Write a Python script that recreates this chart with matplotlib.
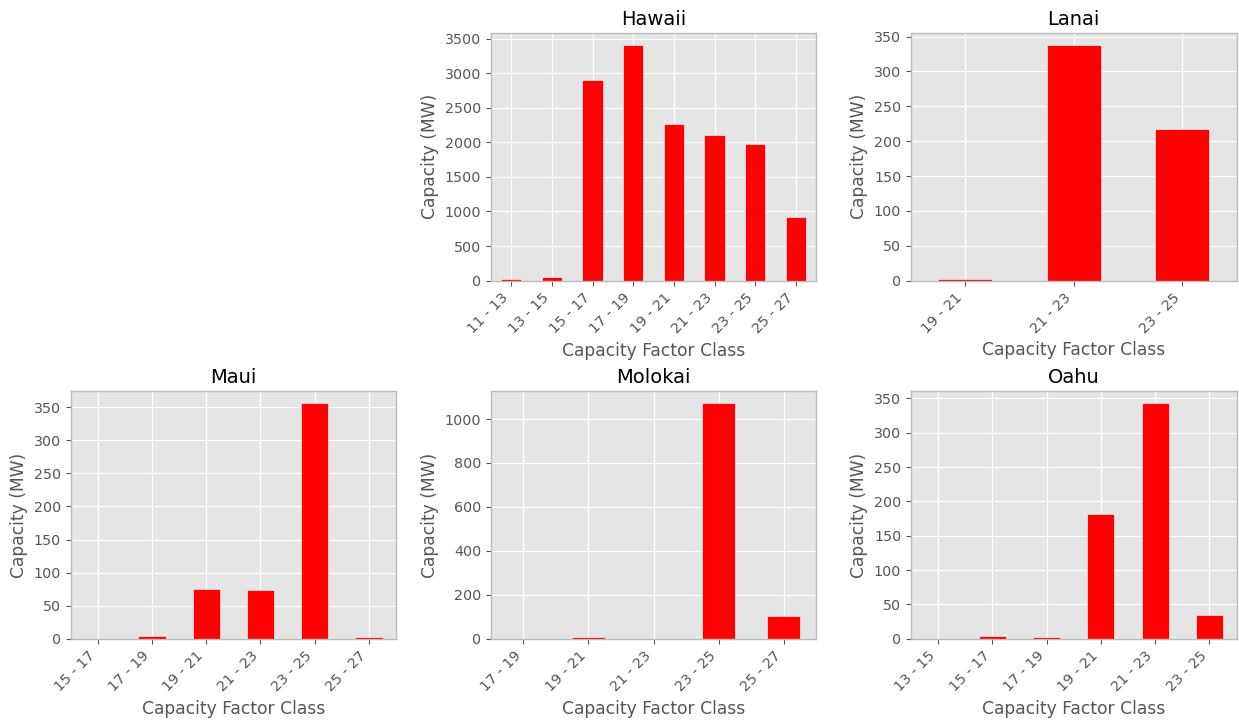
import matplotlib
matplotlib.use("Agg")
import matplotlib.pyplot as plt

plt.style.use('ggplot')

# Capacity by capacity factor class, per island
hawaii_classes = ['11 - 13', '13 - 15', '15 - 17', '17 - 19', '19 - 21', '21 - 23', '23 - 25', '25 - 27']
hawaii_mw = [25, 45, 2900, 3410, 2265, 2100, 1980, 915]

lanai_classes = ['19 - 21', '21 - 23', '23 - 25']
lanai_mw = [2, 338, 217]

maui_classes = ['15 - 17', '17 - 19', '19 - 21', '21 - 23', '23 - 25', '25 - 27']
maui_mw = [0, 4, 76, 74, 356, 2]

molokai_classes = ['17 - 19', '19 - 21', '21 - 23', '23 - 25', '25 - 27']
molokai_mw = [0, 7, 0, 1072, 103]

oahu_classes = ['13 - 15', '15 - 17', '17 - 19', '19 - 21', '21 - 23', '23 - 25']
oahu_mw = [0, 4, 2, 182, 343, 34]

islands = [
    ('Hawaii', hawaii_classes, hawaii_mw),
    ('Lanai', lanai_classes, lanai_mw),
    ('Maui', maui_classes, maui_mw),
    ('Molokai', molokai_classes, molokai_mw),
    ('Oahu', oahu_classes, oahu_mw),
]

fig, axes = plt.subplots(2, 3, figsize=(12.39, 7.21), dpi=100)
axes = axes.flatten()
axes[0].axis('off')

for ax, (name, classes, mw) in zip(axes[1:], islands):
    x = range(len(classes))
    ax.bar(x, mw, width=0.5, color='red', edgecolor='#EEEEEE', linewidth=0.5)
    ax.set_xlim(-0.5, len(classes) - 0.5)
    ax.set_xticks(list(x))
    ax.set_xticklabels(classes, rotation=45, ha='right', fontsize=10.3)
    ax.tick_params(axis='y', labelsize=10.3)
    ax.set_title(name, fontsize=14)
    ax.set_xlabel('Capacity Factor Class', fontsize=12.3)
    ax.set_ylabel('Capacity (MW)', fontsize=12.3)
    for s in ax.spines.values():
        s.set_color('#BCBCBC')

# axes placement
plt.subplots_adjust(left=0.057, right=0.998, top=0.954, bottom=0.114,
                    wspace=0.291, hspace=0.448)
plt.savefig('out.png', dpi=100)
